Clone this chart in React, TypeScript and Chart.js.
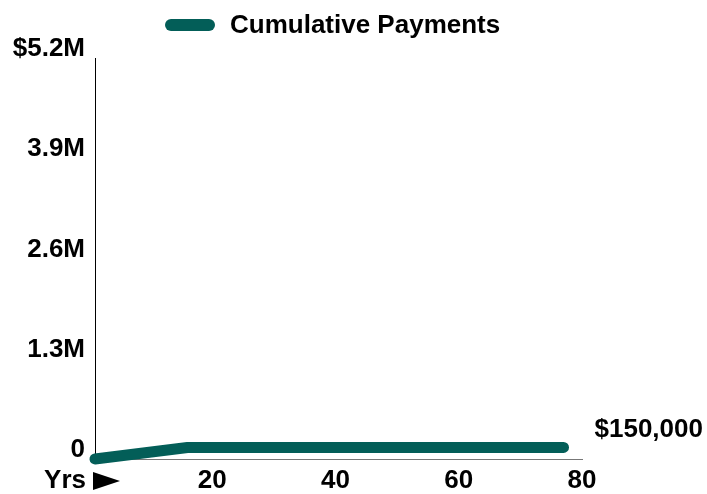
import React, { useEffect, useRef } from "react";
import { Chart, registerables } from "chart.js";

Chart.register(...registerables);

const years = [1, 16, 77];
const payments = [0, 150000, 150000];
const xTickValues = [20, 40, 60, 80];
const yTickValues = [0, 1300000, 2600000, 3900000, 5200000];
const yTickLabels = ["0", "1.3M", "2.6M", "3.9M", "$5.2M"];
const seriesLabel = "Cumulative Payments";
const endLabel = "$150,000";
const xAxisLabel = "Yrs";

const TEAL = "#035e58";
const FONT_FAMILY = '"Liberation Sans", Arial, Helvetica, sans-serif';
const FONT_SIZE = 26;
const FONT = `bold ${FONT_SIZE}px ${FONT_FAMILY}`;

export default function App() {
  const canvasRef = useRef<HTMLCanvasElement | null>(null);

  useEffect(() => {
    const canvas = canvasRef.current;
    if (!canvas) return;

    const overlay = {
      id: "overlay",
      afterDraw(chart: any) {
        const ctx = chart.ctx;
        const xs = chart.scales.x;
        const ys = chart.scales.y;
        ctx.save();
        // legend
        ctx.strokeStyle = TEAL;
        ctx.lineWidth = 12;
        ctx.lineCap = "round";
        ctx.beginPath();
        ctx.moveTo(171, 25);
        ctx.lineTo(209, 25);
        ctx.stroke();
        ctx.fillStyle = "#000";
        ctx.font = FONT;
        ctx.textBaseline = "middle";
        ctx.textAlign = "left";
        ctx.fillText(seriesLabel, 230, 26);
        // end label
        const lastX = xs.getPixelForValue(years[years.length - 1]);
        const lastY = ys.getPixelForValue(payments[payments.length - 1]);
        ctx.fillText(endLabel, lastX + 31, lastY - 18);
        // Yrs label + arrow
        ctx.textAlign = "right";
        ctx.fillText(xAxisLabel, 86, 481);
        ctx.beginPath();
        ctx.moveTo(93, 472);
        ctx.lineTo(93, 490);
        ctx.lineTo(120, 481);
        ctx.closePath();
        ctx.fill();
        ctx.restore();
      },
    };

    const chart = new Chart(canvas, {
      type: "line",
      data: {
        datasets: [
          {
            label: seriesLabel,
            data: years.map((x, i) => ({ x, y: payments[i] })),
            borderColor: TEAL,
            backgroundColor: TEAL,
            borderWidth: 11,
            borderCapStyle: "round",
            borderJoinStyle: "round",
            pointRadius: 0,
            tension: 0,
            clip: false,
          } as any,
        ],
      },
      options: {
        animation: false,
        responsive: false,
        layout: { padding: { top: 58, right: 125, left: 0, bottom: 0 } },
        plugins: {
          legend: { display: false },
          tooltip: { enabled: false },
        },
        scales: {
          x: {
            type: "linear",
            min: years[0],
            max: 80,
            grid: { display: false, drawTicks: false },
            border: { display: true, color: "#777", width: 1 },
            afterBuildTicks: (s: any) => {
              s.ticks = xTickValues.map((v) => ({ value: v }));
            },
            ticks: {
              color: "#000",
              font: { size: FONT_SIZE, weight: "bold", family: FONT_FAMILY },
              padding: 6,
              maxRotation: 0,
              autoSkip: false,
              callback: (v: any) => String(v),
            },
            afterFit: (s: any) => {
              s.height = 35;
            },
          },
          y: {
            type: "linear",
            min: 0,
            max: 5200000,
            grid: { display: false, drawTicks: false },
            border: { display: true, color: "#000", width: 1 },
            afterBuildTicks: (s: any) => {
              s.ticks = yTickValues.map((v) => ({ value: v }));
            },
            ticks: {
              color: "#000",
              font: { size: FONT_SIZE, weight: "bold", family: FONT_FAMILY },
              padding: 10,
              labelOffset: -9,
              callback: (_v: any, i: number) => yTickLabels[i],
            },
            afterFit: (s: any) => {
              s.width = 95;
            },
          },
        },
      },
      plugins: [overlay],
    });

    return () => chart.destroy();
  }, []);

  return (
    <div style={{ position: "absolute", left: 0, top: 0, width: 707, height: 494, background: "#fff" }}>
      <canvas ref={canvasRef} width={707} height={494} style={{ display: "block" }} />
    </div>
  );
}
